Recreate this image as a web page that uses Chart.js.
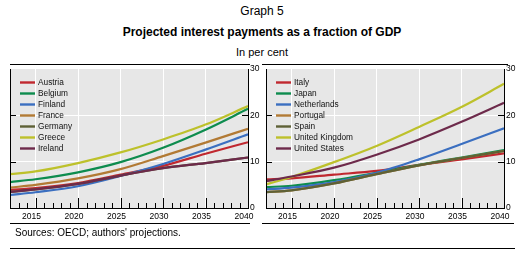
<!DOCTYPE html>
<html>
<head>
<meta charset="utf-8">
<script src="https://cdn.jsdelivr.net/npm/chart.js@4.4.0/dist/chart.umd.min.js"></script>
<style>
  body { margin: 0; width: 524px; height: 253px; background: #fff; position: relative; overflow: hidden;
         font-family: "Liberation Sans", Arial, sans-serif; color: #000; }
  .t { position: absolute; left: 0; width: 524px; text-align: center; white-space: nowrap; height: 14px; line-height: 14px; }
  .rule { position: absolute; height: 1px; background: #000; }
  canvas { position: absolute; top: 60px; }
</style>
</head>
<body>
<div class="t" style="top:4px;font-size:12px">Graph 5</div>
<div class="t" style="top:25px;font-size:12px;font-weight:bold">Projected interest payments as a fraction of GDP</div>
<div class="t" style="top:45px;font-size:11px">In per cent</div>

<div class="rule" style="top:64px;left:10px;width:240px"></div>
<div class="rule" style="top:64px;left:262px;width:246px"></div>

<canvas id="left" width="262" height="165" style="left:0"></canvas>
<canvas id="right" width="262" height="165" style="left:262px"></canvas>

<div class="rule" style="top:223px;left:10px;width:240px"></div>
<div class="rule" style="top:223px;left:262px;width:252px"></div>
<div class="t" style="top:226px;left:15px;width:auto;font-size:10px;text-align:left">Sources: OECD; authors' projections.</div>
<div class="rule" style="top:248px;left:10px;width:505px"></div>

<script>
// data
const years = [2012, 2015, 2020, 2025, 2030, 2035, 2040];
const tickYears = [2015, 2020, 2025, 2030, 2035, 2040];
const yTicks = [0, 10, 20, 30];

const leftNames = ['Austria', 'Belgium', 'Finland', 'France', 'Germany', 'Greece', 'Ireland'];
const austria = [3.9, 4.3, 5.4, 7.2, 9.1, 11.7, 14.2];
const belgium = [5.6, 6.2, 7.7, 9.9, 13.0, 16.9, 21.4];
const finland = [2.8, 3.4, 4.7, 6.9, 9.5, 12.6, 15.9];
const france = [4.4, 5.0, 6.4, 8.4, 11.2, 14.1, 17.1];
const germany = [3.5, 4.0, 5.2, 7.0, 8.6, 9.7, 10.9];
const greece = [7.3, 7.9, 9.7, 12.0, 14.8, 18.0, 22.0];
const ireland = [3.5, 4.0, 5.2, 7.0, 8.6, 9.7, 10.9];

const rightNames = ['Italy', 'Japan', 'Netherlands', 'Portugal', 'Spain', 'United Kingdom', 'United States'];
const italy = [6.2, 6.4, 7.2, 8.0, 9.3, 10.5, 11.8];
const japan = [4.5, 4.8, 6.0, 7.6, 9.3, 10.9, 12.5];
const netherlands = [4.0, 4.4, 5.6, 7.6, 10.5, 13.8, 17.2];
const portugal = [3.4, 3.8, 5.3, 7.3, 9.2, 10.8, 12.3];
const spain = [3.4, 3.8, 5.3, 7.3, 9.2, 10.8, 12.3];
const uk = [5.1, 6.7, 9.9, 13.4, 17.5, 21.8, 26.8];
const us = [5.8, 6.8, 8.7, 11.5, 14.8, 18.6, 22.7];

const colours = ['#c0282f', '#0d8c4e', '#3b6fc0', '#b27a34', '#5e6136', '#bdc12b', '#6d2a4b'];

const panel = {
  id: 'panel',
  beforeDraw(chart) {
    const a = chart.chartArea, ctx = chart.ctx;
    ctx.save();
    ctx.fillStyle = '#e7e7e7';
    ctx.fillRect(a.left, a.top, a.right - a.left, a.bottom - a.top);
    ctx.restore();
  },
  afterDraw(chart) {
    const a = chart.chartArea, ctx = chart.ctx;
    const x = chart.scales.x, y = chart.scales.y;
    ctx.save();
    ctx.strokeStyle = '#000';
    ctx.lineWidth = 1;
    ctx.beginPath();
    ctx.moveTo(Math.round(a.left) + 0.5, a.top);
    ctx.lineTo(Math.round(a.left) + 0.5, a.bottom);
    // year ticks, inside
    for (let yr = Math.ceil(x.min) + 1; yr < x.max; yr++) {
      const px = Math.round(x.getPixelForValue(yr)) + 0.5;
      const len = yr % 5 === 0 ? 10 : 5;
      ctx.moveTo(px, a.bottom);
      ctx.lineTo(px, a.bottom - len);
    }
    yTicks.slice(1, -1).forEach(v => {
      const py = Math.round(y.getPixelForValue(v)) + 0.5;
      ctx.moveTo(a.left, py); ctx.lineTo(a.left + 6, py);
      ctx.moveTo(a.right, py); ctx.lineTo(a.right - 6, py);
    });
    ctx.stroke();

    // legend inside the plot
    ctx.font = '8.3px "Liberation Sans"';
    ctx.textBaseline = 'middle';
    chart.data.datasets.forEach((ds, i) => {
      const ly = Math.round(a.top + 13 + i * 11) + 0.5;
      ctx.strokeStyle = ds.borderColor;
      ctx.lineWidth = 2.4;
      ctx.beginPath();
      ctx.moveTo(a.left + 10, ly);
      ctx.lineTo(a.left + 25, ly);
      ctx.stroke();
      ctx.fillStyle = '#111';
      ctx.fillText(ds.label, a.left + 28, ly);
    });
    ctx.restore();
  }
};

function makeChart(id, names, series, padLeft, yWidth) {
  return new Chart(document.getElementById(id), {
    type: 'line',
    data: {
      labels: years,
      datasets: series.map((d, i) => ({
        label: names[i],
        data: d,
        borderColor: colours[i],
        borderWidth: 2.2,
        pointRadius: 0,
        cubicInterpolationMode: 'monotone',
        order: series.length - i
      }))
    },
    options: {
      responsive: false,
      animation: false,
      events: [],
      layout: { padding: { left: padLeft, top: 9, right: 0, bottom: 0 } },
      plugins: { legend: { display: false }, tooltip: { enabled: false } },
      scales: {
        x: {
          type: 'linear',
          min: years[0],
          max: years[years.length - 1],
          afterBuildTicks: s => { s.ticks = tickYears.map(v => ({ value: v })); },
          afterFit: s => { s.height = 17; },
          grid: {
            drawTicks: false,
            color: c => (c.tick && c.tick.value < 2040 ? '#fff' : 'rgba(0,0,0,0)')
          },
          border: { color: '#000', width: 1 },
          ticks: {
            padding: 4,
            labelOffset: -4,
            maxRotation: 0,
            autoSkip: false,
            color: '#000',
            font: { family: 'Liberation Sans', size: 8.5 },
            callback: v => String(v)
          }
        },
        y: {
          position: 'right',
          min: 0,
          max: 30,
          afterBuildTicks: s => { s.ticks = yTicks.map(v => ({ value: v })); },
          afterFit: s => { s.width = yWidth; },
          grid: {
            drawTicks: false,
            color: c => (c.tick && c.tick.value > 0 && c.tick.value < 30 ? '#fff' : 'rgba(0,0,0,0)')
          },
          border: { color: '#000', width: 1 },
          ticks: {
            padding: 2,
            color: '#000',
            font: { family: 'Liberation Sans', size: 8.5 }
          }
        }
      }
    },
    plugins: [panel]
  });
}

makeChart('left', leftNames, [austria, belgium, finland, france, germany, greece, ireland], 10, 14);
makeChart('right', rightNames, [italy, japan, netherlands, portugal, spain, uk, us], 4, 20);
</script>
</body>
</html>
